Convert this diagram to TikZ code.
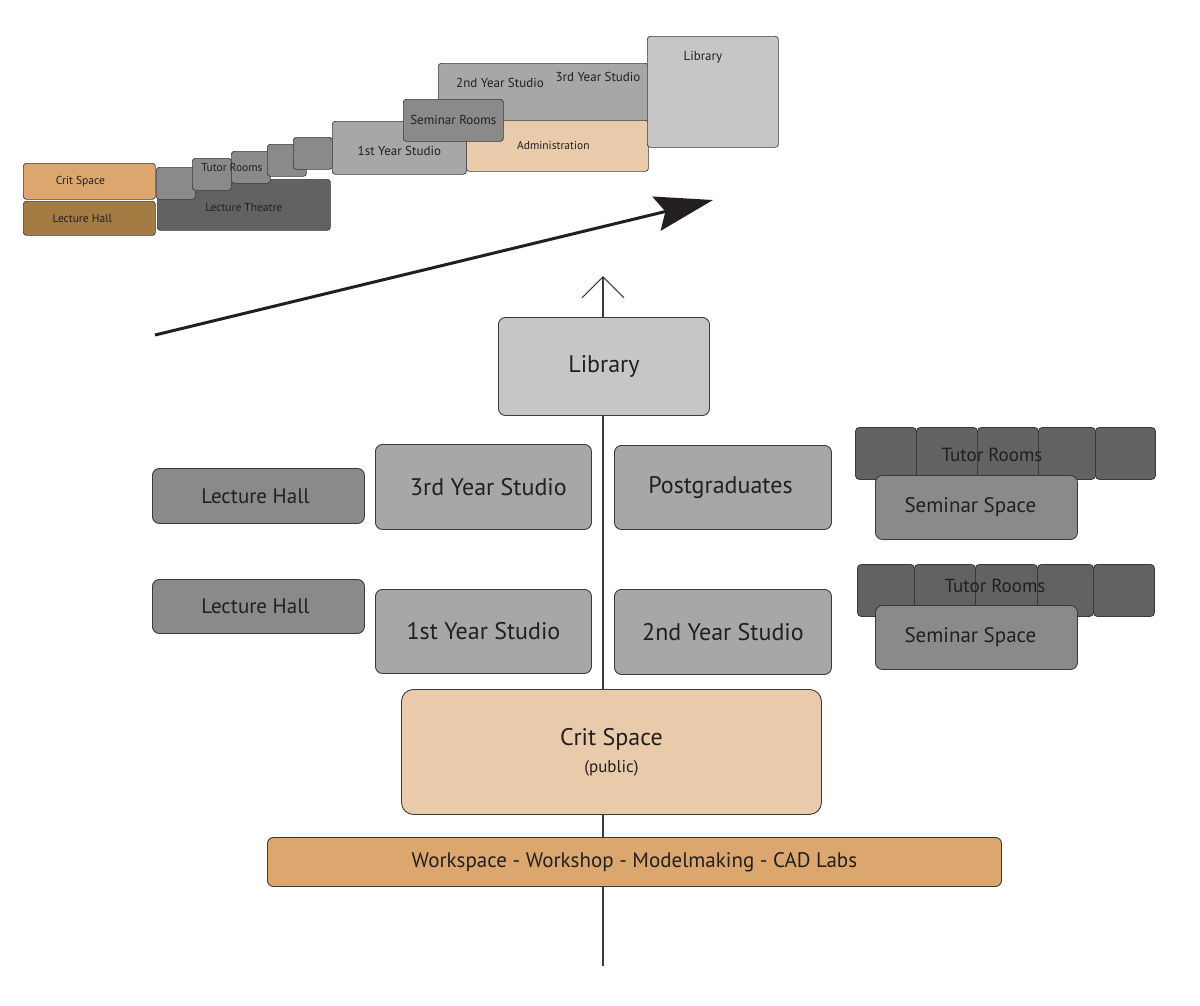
\documentclass[tikz,border=0pt]{standalone}
\usepackage{fontspec}
\setmainfont{PT Sans}
\usepackage{xcolor}
\usetikzlibrary{arrows.meta, positioning}
\definecolor{edge}{HTML}{3A3A3A}
\definecolor{ink}{HTML}{231F20}
\definecolor{libgray}{HTML}{C6C6C6}
\definecolor{studiogray}{HTML}{A7A7A7}
\definecolor{midgray}{HTML}{8A8A8A}
\definecolor{darkgray}{HTML}{626262}
\definecolor{peach}{HTML}{E9CAAA}
\definecolor{tan}{HTML}{DBA76F}
\definecolor{brown}{HTML}{A57B44}
\tikzstyle{room} = [rectangle, rounded corners=7pt, draw=edge, line width=0.9pt, inner sep=0pt, anchor=north west, align=center, text=ink, font=\fontsize{24}{28}\selectfont]
\tikzstyle{cell} = [room, rounded corners=3pt, line width=0.7pt, font=\fontsize{11.5}{14}\selectfont]
\tikzstyle{tag} = [inner sep=0pt, text=ink, font=\fontsize{11.5}{14}\selectfont]
\tikzstyle{arrow} = [line width=3pt, draw=ink, -{Stealth[length=58pt, width=35pt, inset=9pt]}]
\tikzstyle{axis} = [line width=1.2pt, draw=edge, -{Straight Barb[length=21pt, width=42pt]}]

\begin{document}
\begin{tikzpicture}[x=1pt, y=-1pt]
        \useasboundingbox (0,0) rectangle (1200,1005);

        % small overview, top left
        \node (tcrit) [cell, fill=tan, minimum width=132, minimum height=36] at (23,163) {Crit Space\hspace{18pt}};
        \node (thall) [cell, fill=brown, minimum width=132, minimum height=34] at (23,201) {Lecture Hall\hspace{14pt}};
        \node (ttheatre) [cell, fill=darkgray, minimum width=173, minimum height=51] at (157,179) {\\Lecture Theatre};
        \foreach \x/\y in {156/167, 192/158, 231/151, 267/144, 293/137}
            \node [cell, fill=midgray, minimum width=39, minimum height=32] at (\x,\y) {};
        \node (ttutor) [tag] at (232,167) {Tutor Rooms};
        \node (tstudio23) [cell, fill=studiogray, minimum width=210, minimum height=80] at (438,63) {};
        \node (tadmin) [cell, fill=peach, minimum width=182, minimum height=51] at (466,120) {Administration\hspace{8pt}};
        \node (tstudio1) [cell, fill=studiogray, minimum width=134, minimum height=53, font=\fontsize{13}{15}\selectfont] at (332,121) {\\1st Year Studio\hspace{12pt}};
        \node (tseminar) [cell, fill=midgray, minimum width=100, minimum height=42, font=\fontsize{13}{15}\selectfont] at (403,99) {Seminar Rooms};
        \node (tlib) [cell, fill=libgray, minimum width=131, minimum height=111] at (647,36) {};
        \node [tag, font=\fontsize{13}{15}\selectfont] at (500,83) {2nd Year Studio};
        \node [tag, font=\fontsize{13}{15}\selectfont] at (598,77) {3rd Year Studio};
        \node [tag, font=\fontsize{13}{15}\selectfont, below=15pt of tlib.north, xshift=-10pt] {Library};

        \coordinate (growstart) at (155,335);
        \coordinate (growend) at (713,200);
        \draw [arrow] (growstart) -- (growend);

        % main scheme
        \coordinate (axisbot) at (603,966);
        \coordinate (axistop) at (603,276);
        \draw [axis] (axisbot) -- (axistop);

        \node (lib) [room, fill=libgray, minimum width=211, minimum height=98] at (498,317) {Library};
        \node (hall3) [room, fill=midgray, minimum width=212, minimum height=55, font=\fontsize{21}{25}\selectfont] at (152,468) {Lecture Hall\hspace{6pt}};
        \node (hall1) [room, fill=midgray, minimum width=212, minimum height=54, font=\fontsize{21}{25}\selectfont] at (152,579) {Lecture Hall\hspace{6pt}};
        \node (studio3) [room, fill=studiogray, minimum width=216, minimum height=85] at (375,444) {\hspace{10pt}3rd Year Studio};
        \node (studio1) [room, fill=studiogray, minimum width=216, minimum height=84] at (375,589) {1st Year Studio};
        \node (post) [room, fill=studiogray, minimum width=217, minimum height=84] at (614,445) {Postgraduates\hspace{5pt}};
        \node (studio2) [room, fill=studiogray, minimum width=217, minimum height=85] at (614,589) {2nd Year Studio};

        \foreach \x/\w in {855/61, 916/61, 977/61, 1038/57, 1095/60}
            \node [room, rounded corners=4pt, fill=darkgray, minimum width=\w, minimum height=52] at (\x,427) {};
        \node (semtop) [room, fill=midgray, minimum width=202, minimum height=64, font=\fontsize{21}{25}\selectfont] at (875,475) {Seminar Space\hspace{12pt}};
        \node (tutortop) [tag, font=\fontsize{19}{23}\selectfont] at (992,455) {Tutor Rooms};

        \foreach \x/\w in {857/57, 914/61, 975/62, 1037/56, 1093/61}
            \node [room, rounded corners=4pt, fill=darkgray, minimum width=\w, minimum height=52] at (\x,564) {};
        \node (sembot) [room, fill=midgray, minimum width=202, minimum height=64, font=\fontsize{21}{25}\selectfont] at (875,605) {Seminar Space\hspace{12pt}};
        \node (tutorbot) [tag, font=\fontsize{19}{23}\selectfont] at (995,586) {Tutor Rooms};

        \node (crit) [room, rounded corners=12pt, fill=peach, minimum width=420, minimum height=125] at (401,689) {Crit Space\\[-1pt]{\fontsize{17}{20}\selectfont (public)}};
        \node (work) [room, rounded corners=6pt, fill=tan, minimum width=734, minimum height=49, font=\fontsize{21}{25}\selectfont] at (267,837) {Workspace - Workshop - Modelmaking - CAD Labs};
    \end{tikzpicture}
\end{document}
